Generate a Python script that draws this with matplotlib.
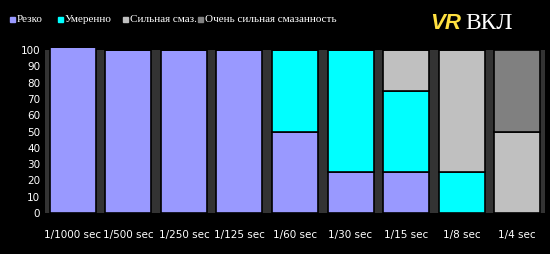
import numpy as np
import matplotlib.pyplot as plt
from matplotlib.patches import Rectangle

categories = ['1/1000 sec', '1/500 sec', '1/250 sec', '1/125 sec', '1/60 sec',
              '1/30 sec', '1/15 sec', '1/8 sec', '1/4 sec']
sharp = [102, 100, 100, 100, 50, 25, 25, 0, 0]
moderate = [0, 0, 0, 0, 50, 75, 50, 25, 0]
strong = [0, 0, 0, 0, 0, 0, 25, 75, 50]
very_strong = [0, 0, 0, 0, 0, 0, 0, 0, 50]

series = [
    ('Резко', sharp, '#9999ff'),
    ('Умеренно', moderate, '#00ffff'),
    ('Сильная смаз.', strong, '#c0c0c0'),
    ('Очень сильная смазанность', very_strong, '#808080'),
]

W, H = 550, 254
fig = plt.figure(figsize=(5.5, 2.54), dpi=100, facecolor='black')
ax = fig.add_axes([45 / W, 1 - 213 / H, 500 / W, 163 / H])
ax.set_facecolor('#333333')

x = np.arange(len(categories))
bottom = np.zeros(len(categories))
for name, vals, col in series:
    vals = np.array(vals, dtype=float)
    ax.bar(x, vals, bottom=bottom, width=0.83, color=col, edgecolor='black',
           linewidth=1.2, label=name, clip_on=False)
    bottom += vals

ax.set_xlim(-0.5, len(categories) - 0.5)
ax.set_ylim(0, 100)
ax.set_yticks(range(0, 101, 10))
ax.set_xticks(x)
ax.set_xticklabels(categories, fontsize=7)
ax.tick_params(colors='white', labelsize=7.5, length=0)
ax.tick_params(axis='x', pad=12)
for s in ax.spines.values():
    s.set_visible(False)

# legend row
leg_x = [10, 58, 123, 198]
for (name, vals, col), lx in zip(series, leg_x):
    fig.patches.append(Rectangle((lx / W, 1 - 22 / H), 5 / W, 5 / H,
                                 transform=fig.transFigure, color=col))
    fig.text((lx + 7) / W, 1 - 19 / H, name, color='white', fontsize=8,
             family='Liberation Serif', va='center', ha='left')

fig.text(430 / W, 1 - 23 / H, 'VR', color='#ffe040', fontsize=16,
         fontweight='bold', fontstyle='italic', family='Liberation Sans',
         va='center', ha='left')
fig.text(465 / W, 1 - 23 / H, 'ВКЛ', color='white', fontsize=17,
         family='Liberation Serif', va='center', ha='left')

fig.savefig('out.png', dpi=100, facecolor='black')
